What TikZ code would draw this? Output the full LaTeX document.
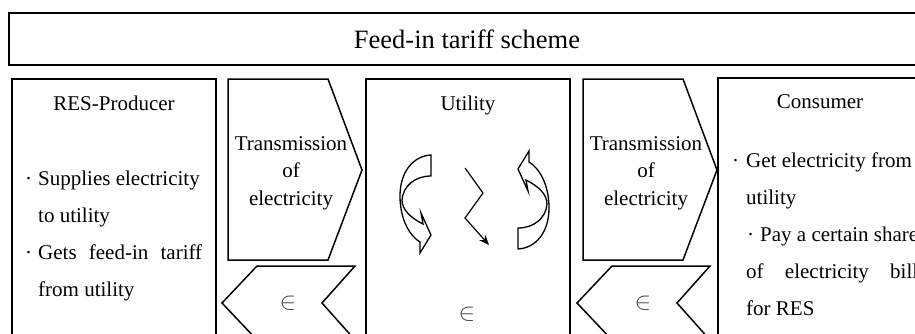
\documentclass[tikz,border=0pt]{standalone}
\usepackage{fontspec}
\setmainfont{Liberation Serif}
\usetikzlibrary{arrows.meta}

\begin{document}
\begin{tikzpicture}[
  x=1pt, y=-1pt,
  >={Stealth[length=10pt, width=8pt]},
  frame/.style={draw=black, line width=1.5pt},
  bodytext/.style={font=\fontsize{21}{25}\selectfont, inner sep=0pt},
  rowtext/.style={bodytext, anchor=base west},
  headtext/.style={bodytext, anchor=base},
  money/.style={font=\fontsize{23}{25}\selectfont, text=black!70, inner sep=0pt},
]
\useasboundingbox (0,0) rectangle (915,333);
\clip (0,0) rectangle (915,333);

% ===== title bar =====
\draw[frame, line width=1.8pt] (9,13) rectangle (926,65);
\node[font=\fontsize{26.5}{30}\selectfont, anchor=base, inner sep=0pt] (title) at (467,48) {Feed-in tariff scheme};

% ===== the three party boxes =====
\draw[frame] (12,79) rectangle (216,360);
\draw[frame] (366,79) rectangle (570,360);
\draw[frame] (718,78) rectangle (930,360);
\node[headtext] (producer) at (114,110) {RES-Producer};
\node[headtext] (utility) at (468,110) {Utility};
\node[headtext] (consumer) at (820,108) {Consumer};

% ===== producer duties =====
\node[rowtext] (pdot1) at (25,185) {·};
\node[rowtext] (pdot2) at (25,259) {·};
\foreach \y/\t in {185/Supplies electricity, 222/to utility,
                   259/{\makebox[164pt][s]{Gets feed-in tariff}}, 296/from utility}{
  \node[rowtext] at (38,\y) {\t};
}

% ===== transmission arrows and money chevrons =====
\foreach \dx in {0,355}{
  \draw[frame] (228+\dx,79) -- (328+\dx,79) -- (362+\dx,170) -- (328+\dx,260) -- (228+\dx,260) -- cycle;
  \draw[frame] (257+\dx,266) -- (355+\dx,266) -- (322+\dx,303) -- (355+\dx,340) -- (257+\dx,340) -- (222+\dx,303) -- cycle;
  \foreach \y/\t in {150/Transmission, 177.5/of, 205/electricity}{
    \node[headtext] at (291+\dx,\y) {\t};
  }
  \node[money] (euro\dx) at (288+\dx,303) {$\in$};
}

% ===== utility: swirls and payment =====
\def\swirl{(431,155) .. controls (413,156) and (400,172) .. (400,196)
  .. controls (400,220) and (410,236) .. (420,242) -- (420,253) -- (431,235) -- (421,213) -- (423,224)
  .. controls (411,218) and (402,210) .. (402,200) .. controls (403,186) and (415,176) .. (431,176) -- cycle}
\draw[line width=1.3pt] \swirl;
\draw[line width=1.3pt, rotate around={180:(474.5,202)}] \swirl;
\draw[line width=1.2pt, ->] (465,168) -- (483,193) -- (465,218) -- (489,245);
\node[money] (euroU) at (467,314) {$\in$};

% ===== consumer duties =====
\node[rowtext] (cdot1) at (732,167) {·};
\node[rowtext] (cdot2) at (747,241) {·};
\node[rowtext] at (746,167) {Get electricity from};
\node[rowtext] at (746,204) {utility};
\node[rowtext] at (760,241) {Pay a certain share};
\node[rowtext] at (746,278) {\makebox[172pt][s]{of electricity bill}};
\node[rowtext] at (746,315) {for RES};
\end{tikzpicture}
\end{document}
